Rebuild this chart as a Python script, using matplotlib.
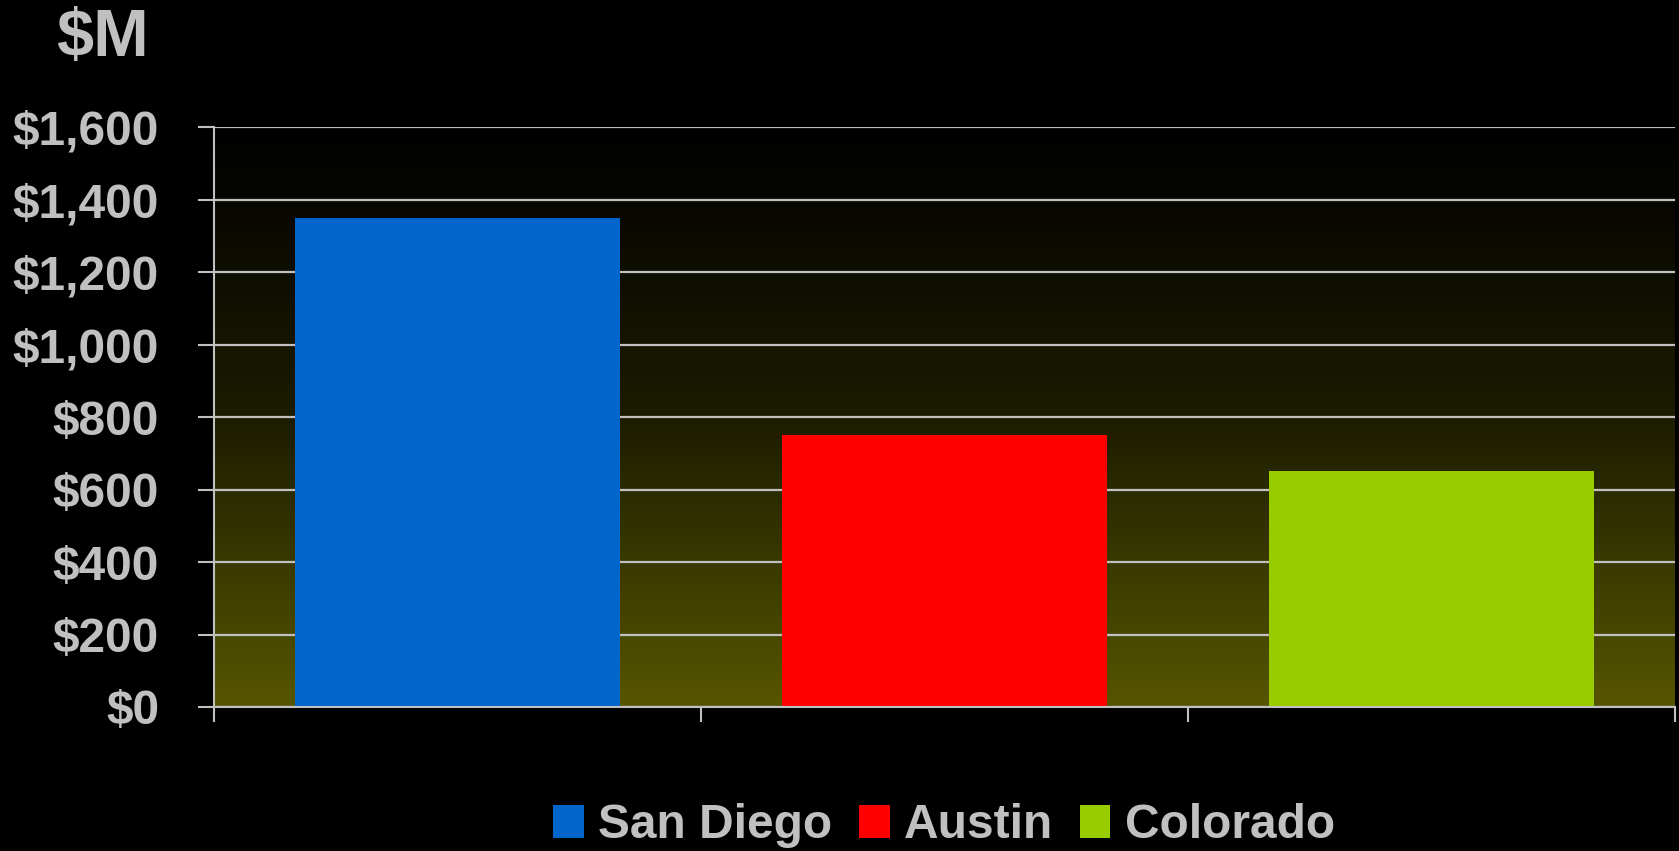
import matplotlib
matplotlib.use('Agg')
import matplotlib.pyplot as plt
from matplotlib.colors import LinearSegmentedColormap
from matplotlib.ticker import FuncFormatter
import numpy as np

# data
sites = ['San Diego', 'Austin', 'Colorado']
revenue = [1350, 750, 650]
bar_colors = ['#0066CC', '#FF0000', '#99CC00']
y_ticks = [0, 200, 400, 600, 800, 1000, 1200, 1400, 1600]

text_gray = '#C0C0C0'
plt.rcParams['font.family'] = ['Liberation Sans', 'DejaVu Sans']
plt.rcParams['font.weight'] = 'bold'

fig = plt.figure(figsize=(16.79, 8.51), dpi=100, facecolor='black')
ax = fig.add_axes([214 / 1679, 1 - 707 / 851, 1461 / 1679, 580 / 851])
ax.set_facecolor('black')

# gradient backdrop of the plot area
grad = np.linspace(0, 1, 256).reshape(-1, 1)
cmap = LinearSegmentedColormap.from_list('bg', ['#565600', '#1c1c00', '#000000'])
ax.imshow(grad, extent=[-0.5, 2.5, 0, 1600], aspect='auto', cmap=cmap,
          origin='lower', zorder=0)

x = np.arange(len(sites))
bars = ax.bar(x, revenue, width=0.667, color=bar_colors, zorder=3)

ax.set_xlim(-0.5, 2.5)
ax.set_ylim(0, 1600)
ax.set_yticks(y_ticks)
ax.yaxis.set_major_formatter(FuncFormatter(lambda v, p: f'${v:,.0f}'))
ax.grid(axis='y', color=text_gray, linewidth=1.6, zorder=1)
ax.set_axisbelow(False)
for gl in ax.get_ygridlines():
    gl.set_zorder(1)

ax.set_xticks([])
ax.set_xticks([-0.5, 0.5, 1.5, 2.5], minor=True)
ax.tick_params(axis='x', which='minor', length=11, width=1.5, color=text_gray)
ax.tick_params(axis='y', length=11.5, width=1.5, color=text_gray,
               labelcolor=text_gray, labelsize=34.5, pad=28)
for lbl in ax.get_yticklabels():
    lbl.set_fontweight('bold')

for side in ['top', 'right']:
    ax.spines[side].set_visible(False)
for side in ['left', 'bottom']:
    ax.spines[side].set_color(text_gray)
    ax.spines[side].set_linewidth(1.5)
    ax.spines[side].set_zorder(4)

fig.text(102 / 1679, 1 - 39 / 851, '$M', color=text_gray, fontsize=48,
         fontweight='bold', ha='center', va='center')

leg = fig.legend(bars, sites, loc='center', ncol=3,
                 bbox_to_anchor=(944 / 1679, 1 - 826 / 851), frameon=False,
                 handlelength=0.64, handleheight=0.68,
                 handletextpad=0.3, columnspacing=0.55,
                 prop={'weight': 'bold', 'size': 34.5})
for t in leg.get_texts():
    t.set_color(text_gray)

fig.savefig('out.png', dpi=100, facecolor='black')
